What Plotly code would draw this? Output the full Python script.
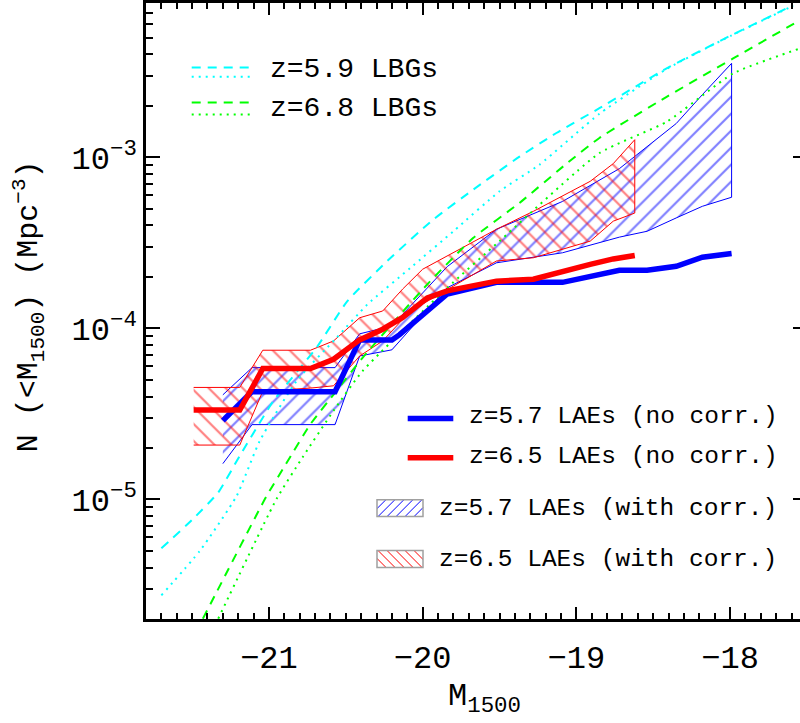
import math
import plotly.graph_objects as go

# ---------------- data ----------------
# z=5.7 LAEs, no correction (thick blue)
lae57_x = [-21.30, -21.11, -20.57, -20.41, -20.20, -20.15, -19.84, -19.52, -19.09, -18.72, -18.54, -18.35, -18.18, -17.99]
lae57_y = [2.89e-5, 4.27e-5, 4.27e-5, 8.57e-5, 8.57e-5, 9.2e-5, 1.59e-4, 1.86e-4, 1.86e-4, 2.19e-4, 2.19e-4, 2.31e-4, 2.61e-4, 2.74e-4]

# z=6.5 LAEs, no correction (thick red)
lae65_x = [-21.49, -21.19, -21.04, -20.73, -20.58, -20.41, -20.26, -20.13, -19.97, -19.84, -19.52, -19.28, -18.91, -18.76, -18.62]
lae65_y = [3.33e-5, 3.33e-5, 5.83e-5, 5.83e-5, 6.6e-5, 8.57e-5, 9.9e-5, 1.16e-4, 1.51e-4, 1.66e-4, 1.89e-4, 1.94e-4, 2.37e-4, 2.55e-4, 2.67e-4]

# z=5.7 LAEs with correction (blue hatched band)
band57_x = [-21.30, -21.11, -20.57, -20.41, -20.20, -19.84, -19.52, -19.09, -18.72, -18.54, -18.35, -18.18, -17.99]
band57_hi = [4.09e-5, 5.9e-5, 5.9e-5, 9.3e-5, 1.035e-4, 2.3e-4, 3.8e-4, 5.53e-4, 8.6e-4, 1.16e-3, 1.58e-3, 2.33e-3, 3.55e-3]
band57_lo = [1.62e-5, 2.74e-5, 2.74e-5, 6.9e-5, 7.5e-5, 1.73e-4, 2.42e-4, 2.77e-4, 3.42e-4, 3.7e-4, 4.43e-4, 5.18e-4, 5.85e-4]

# z=6.5 LAEs with correction (red hatched band)
band65_x = [-21.49, -21.19, -21.04, -20.73, -20.58, -20.41, -20.26, -20.13, -20.00, -19.52, -19.28, -18.91, -18.76, -18.62]
band65_hi = [4.52e-5, 4.52e-5, 7.46e-5, 7.46e-5, 8.45e-5, 1.155e-4, 1.265e-4, 1.7e-4, 2.22e-4, 3.8e-4, 4.84e-4, 7.25e-4, 9.2e-4, 1.27e-3]
band65_lo = [2.08e-5, 2.08e-5, 4.3e-5, 4.48e-5, 4.62e-5, 6.9e-5, 8.45e-5, 1.13e-4, 1.39e-4, 2.48e-4, 2.59e-4, 3.24e-4, 4.24e-4, 4.73e-4]

# z=5.9 LBGs (cyan), two versions
lbg59a_x = [-21.70, -21.50, -21.33, -21.19, -20.97, -20.69, -20.49, -20.23, -19.93, -19.67, -19.37, -19.13, -18.85, -18.41, -17.99, -17.59]
lbg59a_y = [5.18e-6, 7.6e-6, 1.1e-5, 1.8e-5, 3.78e-5, 7.73e-5, 1.445e-4, 2.48e-4, 4.34e-4, 6.49e-4, 1.01e-3, 1.39e-3, 1.94e-3, 3.33e-3, 5.19e-3, 7.76e-3]
lbg59b_x = [-21.70, -21.45, -21.21, -21.06, -20.82, -20.56, -20.36, -20.08, -19.80, -19.50, -19.24, -18.85, -18.41, -17.99, -17.59]
lbg59b_y = [2.75e-6, 5.0e-6, 1.05e-5, 2.2e-5, 4.94e-5, 8.83e-5, 1.38e-4, 2.26e-4, 3.7e-4, 6.34e-4, 9.07e-4, 1.8e-3, 3.3e-3, 5.17e-3, 7.7e-3]

# z=6.8 LBGs (green), two versions
lbg68a_x = [-21.43, -21.34, -21.02, -20.89, -20.73, -20.56, -20.39, -19.97, -19.67, -19.37, -19.06, -18.85, -18.41, -17.98, -17.545]
lbg68a_y = [2.01e-6, 2.88e-6, 1.03e-5, 1.61e-5, 2.76e-5, 4.32e-5, 6.76e-5, 1.81e-4, 3.39e-4, 5.42e-4, 9.26e-4, 1.3e-3, 2.27e-3, 3.79e-3, 6.35e-3]
lbg68b_x = [-21.33, -20.95, -20.78, -20.58, -20.39, -19.84, -19.50, -18.85, -18.41, -17.98, -17.545]
lbg68b_y = [2.01e-6, 1.01e-5, 1.77e-5, 3.3e-5, 5.65e-5, 1.73e-4, 3.24e-4, 1.06e-3, 1.62e-3, 3.1e-3, 4.34e-3]

x_ticks = [-21, -20, -19, -18]
x_ticktext = ["\u221221", "\u221220", "\u221219", "\u221218"]
y_ticks = [1e-5, 1e-4, 1e-3]
y_ticktext = ["10<sup>\u22125</sup>", "10<sup>\u22124</sup>", "10<sup>\u22123</sup>"]

BLUE = "#0000ff"
RED = "#ff0000"
CYAN = "#00ffff"
GREEN = "#00ff00"
FONT = "Liberation Mono"

fig = go.Figure()

def band(x, lo, hi, color, shape, size):
    fig.add_trace(go.Scatter(
        x=x + x[::-1], y=hi + lo[::-1], mode="lines", fill="toself",
        line=dict(color=color, width=1), fillcolor="rgba(0,0,0,0)",
        fillpattern=dict(shape=shape, fgcolor=color, bgcolor="rgba(0,0,0,0)",
                         size=size, solidity=0.18, fillmode="overlay"),
        hoverinfo="skip", showlegend=False))

band(band57_x, band57_lo, band57_hi, BLUE, "/", 12)
band(band65_x, band65_lo, band65_hi, RED, "\\", 12)

for xs, ys, col, dash in [(lbg59a_x, lbg59a_y, CYAN, "9px,7px"), (lbg59b_x, lbg59b_y, CYAN, "2px,5px"),
                          (lbg68a_x, lbg68a_y, GREEN, "9px,7px"), (lbg68b_x, lbg68b_y, GREEN, "2px,5px")]:
    fig.add_trace(go.Scatter(x=xs, y=ys, mode="lines", line=dict(color=col, width=2, dash=dash, shape="spline", smoothing=0.5),
                             hoverinfo="skip", showlegend=False))

fig.add_trace(go.Scatter(x=lae57_x, y=lae57_y, mode="lines", line=dict(color=BLUE, width=5.5),
                         hoverinfo="skip", showlegend=False))
fig.add_trace(go.Scatter(x=lae65_x, y=lae65_y, mode="lines", line=dict(color=RED, width=5.5),
                         hoverinfo="skip", showlegend=False))
# helper trace for the right-hand tick axis
fig.add_trace(go.Scatter(x=[-20], y=[1e-4], yaxis="y2", mode="markers", marker=dict(opacity=0),
                         hoverinfo="skip", showlegend=False))

# ---------------- layout ----------------
L, R, T, B = 146, 800, 1, 618.7
W, H = R - L, B - T
def px(x):
    return (x - L) / W
def py(y):
    return (B - y) / H

shapes = []
annots = []
# LBG legend
for y, col, dash in [(65.7, CYAN, "9px,7px"), (75, CYAN, "2px,5px"), (100.7, GREEN, "9px,7px"), (112.7, GREEN, "2px,5px")]:
    shapes.append(dict(type="line", xref="paper", yref="paper", x0=px(191.7), x1=px(253.3), y0=py(y), y1=py(y),
                       line=dict(color=col, width=2, dash=dash)))
for y, txt in [(68, "z=5.9 LBGs"), (106.5, "z=6.8 LBGs")]:
    annots.append(dict(xref="paper", yref="paper", x=px(268), y=py(y), text=txt, showarrow=False,
                       xanchor="left", yanchor="middle", font=dict(size=28, family=FONT, color="black")))
# LAE legend: lines
for y, col in [(417.7, BLUE), (457, RED)]:
    shapes.append(dict(type="line", xref="paper", yref="paper", x0=px(407.7), x1=px(453.3), y0=py(y), y1=py(y),
                       line=dict(color=col, width=5.5)))
for y, txt in [(415.5, "z=5.7 LAEs (no corr.)"), (455.7, "z=6.5 LAEs (no corr.)")]:
    annots.append(dict(xref="paper", yref="paper", x=px(467), y=py(y), text=txt, showarrow=False,
                       xanchor="left", yanchor="middle", font=dict(size=24.5, family=FONT, color="black")))
# LAE legend: hatched boxes
def hatch_box(x0, x1, yt, yb, color, forward, step):
    h = yb - yt
    t = x0 - h
    while t < x1:
        if forward:  # "/" : (t, yb) -> (t+h, yt)
            ax, ay = t, yb
            bx, by = t + h, yt
            if ax < x0:
                ay = yb - (x0 - t); ax = x0
            if bx > x1:
                by = yb - (x1 - t); bx = x1
        else:  # "\" : (t, yt) -> (t+h, yb)
            ax, ay = t, yt
            bx, by = t + h, yb
            if ax < x0:
                ay = yt + (x0 - t); ax = x0
            if bx > x1:
                by = yt + (x1 - t); bx = x1
        if bx > ax:
            shapes.append(dict(type="line", xref="paper", yref="paper", x0=px(ax), x1=px(bx), y0=py(ay), y1=py(by),
                               line=dict(color=color, width=1)))
        t += step
    shapes.append(dict(type="rect", xref="paper", yref="paper", x0=px(x0), x1=px(x1), y0=py(yb), y1=py(yt),
                       line=dict(color="#a0a0a0", width=1.5), fillcolor="rgba(0,0,0,0)"))

hatch_box(377, 423, 499, 516, BLUE, True, 9)
hatch_box(377, 423, 550, 567, RED, False, 9)
for y, txt in [(508, "z=5.7 LAEs (with corr.)"), (559.5, "z=6.5 LAEs (with corr.)")]:
    annots.append(dict(xref="paper", yref="paper", x=px(437), y=py(y), text=txt, showarrow=False,
                       xanchor="left", yanchor="middle", font=dict(size=24.5, family=FONT, color="black")))
# axis titles
annots.append(dict(xref="paper", yref="paper", x=px(484), y=py(698), text="M<sub>1500</sub>", showarrow=False,
                   xanchor="center", yanchor="middle", font=dict(size=32, family=FONT, color="black")))
annots.append(dict(xref="paper", yref="paper", x=px(29), y=py(305), text="N (&lt;M<sub>1500</sub>) (Mpc<sup>\u22123</sup>)",
                   showarrow=False, textangle=-90, xanchor="center", yanchor="middle",
                   font=dict(size=30, family=FONT, color="black")))

minor_y = [m * 10 ** e for e in range(-6, -2) for m in range(2, 10) if 2e-6 <= m * 10 ** e <= 8e-3]

fig.update_layout(
    width=800, height=723, margin=dict(l=L, r=0, t=T, b=723 - B),
    plot_bgcolor="white", paper_bgcolor="white", showlegend=False,
    font=dict(family=FONT, color="black"),
    shapes=shapes, annotations=annots,
    xaxis=dict(range=[-21.8, -17.545], tickmode="array", tickvals=x_ticks, ticktext=x_ticktext,
               ticks="inside", ticklen=12, tickwidth=1.5, tickcolor="black",
               showline=True, linewidth=2.5, linecolor="black", mirror="ticks",
               showgrid=False, zeroline=False, tickfont=dict(size=32, family=FONT),
               ticklabelstandoff=8,
               minor=dict(tickmode="linear", tick0=-21, dtick=0.1, ticks="inside", ticklen=6,
                          tickwidth=1.5, tickcolor="black", showgrid=False)),
    yaxis=dict(type="log", range=[math.log10(2e-6), math.log10(8e-3)], tickmode="array",
               tickvals=y_ticks, ticktext=y_ticktext, ticks="inside", ticklen=14, tickwidth=1.5,
               tickcolor="black", showline=True, linewidth=2.5, linecolor="black",
               showgrid=False, zeroline=False, tickfont=dict(size=32, family=FONT),
               minor=dict(tickmode="array", tickvals=minor_y, ticks="inside", ticklen=7,
                          tickwidth=1.5, tickcolor="black", showgrid=False)),
    yaxis2=dict(type="log", range=[math.log10(2e-6), math.log10(8e-3)], overlaying="y", side="right",
                anchor="x", tickmode="array", tickvals=y_ticks, ticks="inside", ticklen=7,
                tickwidth=1.5, tickcolor="black", showticklabels=False, showline=False,
                showgrid=False, zeroline=False),
)

fig.write_html("out.html")
